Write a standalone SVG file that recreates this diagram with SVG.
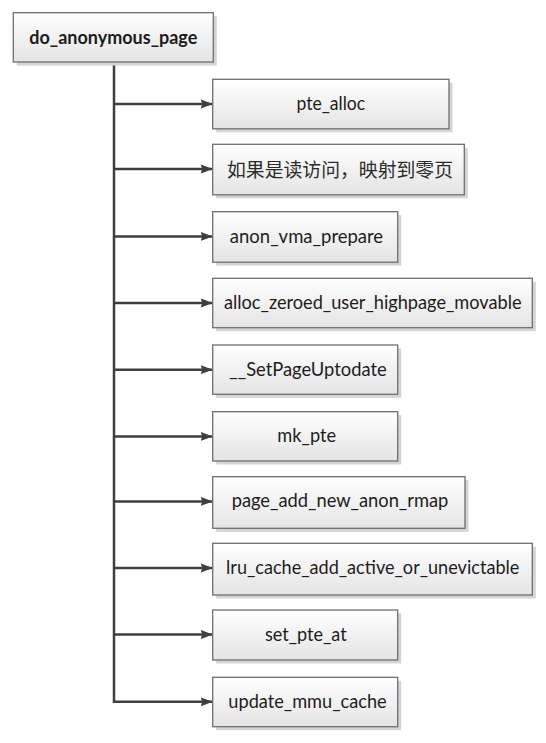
<svg xmlns="http://www.w3.org/2000/svg" width="546" height="743" viewBox="0 0 546 743">
<defs>
<linearGradient id="g" x1="0" y1="0" x2="0" y2="1">
<stop offset="0" stop-color="#ffffff"/>
<stop offset="1" stop-color="#e4e4e4"/>
</linearGradient>
<marker id="ah" markerUnits="userSpaceOnUse" markerWidth="13" markerHeight="12" refX="12" refY="6" orient="auto">
<path d="M0,1.5 L12,6 L0,10.5 L1.5,6 Z" fill="#3f3f3f"/>
</marker>
</defs>
<style>
.sh{fill:#d4d4d4}
.bx{fill:url(#g);stroke:#6f6f6f;stroke-width:1.3}
.t{font-family:Lato,"Liberation Sans",sans-serif;font-size:19px;fill:#1c1c1c;text-anchor:middle}
.b{font-weight:bold}
.cn{font-family:"Noto Sans CJK SC",sans-serif;font-size:19px;fill:#2a2a2a;text-anchor:middle}
.c{stroke:#3f3f3f;stroke-width:2.5;fill:none}
</style>
<rect width="546" height="743" fill="#ffffff"/>
<g id="connectors">
<line class="c" x1="114" y1="62" x2="114" y2="703"/>
<line class="c" x1="114" y1="104" x2="212.7" y2="104" marker-end="url(#ah)"/>
<line class="c" x1="114" y1="169" x2="212.7" y2="169" marker-end="url(#ah)"/>
<line class="c" x1="114" y1="236.4" x2="212.7" y2="236.4" marker-end="url(#ah)"/>
<line class="c" x1="114" y1="303" x2="212.7" y2="303" marker-end="url(#ah)"/>
<line class="c" x1="114" y1="369.7" x2="212.7" y2="369.7" marker-end="url(#ah)"/>
<line class="c" x1="114" y1="436.4" x2="212.7" y2="436.4" marker-end="url(#ah)"/>
<line class="c" x1="114" y1="501.4" x2="212.7" y2="501.4" marker-end="url(#ah)"/>
<line class="c" x1="114" y1="568" x2="212.7" y2="568" marker-end="url(#ah)"/>
<line class="c" x1="114" y1="634.5" x2="212.7" y2="634.5" marker-end="url(#ah)"/>
<line class="c" x1="114" y1="701.8" x2="212.7" y2="701.8" marker-end="url(#ah)"/>
</g>
<g id="root">
<rect class="sh" x="16.8" y="16.2" width="200" height="49.3"/>
<rect class="bx" x="13.3" y="12.7" width="200" height="49.3"/>
<text class="t b" x="113.3" y="43.5" textLength="168" lengthAdjust="spacingAndGlyphs">do_anonymous_page</text>
</g>
<g id="n1">
<rect class="sh" x="216.2" y="82.8" width="236.3" height="49.5"/>
<rect class="bx" x="212.7" y="79.3" width="236.3" height="49.5"/>
<text class="t" x="330.8" y="110" textLength="68.7" lengthAdjust="spacingAndGlyphs">pte_alloc</text>
</g>
<g id="n2">
<rect class="sh" x="216.2" y="147.8" width="251.6" height="50.5"/>
<rect class="bx" x="212.7" y="144.3" width="251.6" height="50.5"/>
<text class="cn" x="340" y="176.5" textLength="226" lengthAdjust="spacingAndGlyphs">如果是读访问，映射到零页</text>
</g>
<g id="n3">
<rect class="sh" x="216.2" y="215.2" width="185" height="50.5"/>
<rect class="bx" x="212.7" y="211.7" width="185" height="50.5"/>
<text class="t" x="306.5" y="242.5" textLength="153.3" lengthAdjust="spacingAndGlyphs">anon_vma_prepare</text>
</g>
<g id="n4">
<rect class="sh" x="216.2" y="281.8" width="319.6" height="49.4"/>
<rect class="bx" x="212.7" y="278.3" width="319.6" height="49.4"/>
<text class="t" x="372.8" y="309" textLength="297.7" lengthAdjust="spacingAndGlyphs">alloc_zeroed_user_highpage_movable</text>
</g>
<g id="n5">
<rect class="sh" x="216.2" y="348.5" width="185" height="49.3"/>
<rect class="bx" x="212.7" y="345" width="185" height="49.3"/>
<text class="t" x="308" y="375.7" textLength="157.3" lengthAdjust="spacingAndGlyphs">__SetPageUptodate</text>
</g>
<g id="n6">
<rect class="sh" x="216.2" y="415.2" width="185" height="49.3"/>
<rect class="bx" x="212.7" y="411.7" width="185" height="49.3"/>
<text class="t" x="306.7" y="442.4" textLength="58.7" lengthAdjust="spacingAndGlyphs">mk_pte</text>
</g>
<g id="n7">
<rect class="sh" x="216.2" y="480.2" width="252.3" height="51.6"/>
<rect class="bx" x="212.7" y="476.7" width="252.3" height="51.6"/>
<text class="t" x="340" y="507.4" textLength="216.7" lengthAdjust="spacingAndGlyphs">page_add_new_anon_rmap</text>
</g>
<g id="n8">
<rect class="sh" x="216.2" y="546.8" width="319.6" height="51.7"/>
<rect class="bx" x="212.7" y="543.3" width="319.6" height="51.7"/>
<text class="t" x="372.7" y="574" textLength="293.3" lengthAdjust="spacingAndGlyphs">lru_cache_add_active_or_unevictable</text>
</g>
<g id="n9">
<rect class="sh" x="216.2" y="613.5" width="185" height="50"/>
<rect class="bx" x="212.7" y="610" width="185" height="50"/>
<text class="t" x="305.8" y="640.5" textLength="81.7" lengthAdjust="spacingAndGlyphs">set_pte_at</text>
</g>
<g id="n10">
<rect class="sh" x="216.2" y="680.8" width="185" height="49.4"/>
<rect class="bx" x="212.7" y="677.3" width="185" height="49.4"/>
<text class="t" x="307.5" y="707.8" textLength="158.3" lengthAdjust="spacingAndGlyphs">update_mmu_cache</text>
</g>
</svg>
